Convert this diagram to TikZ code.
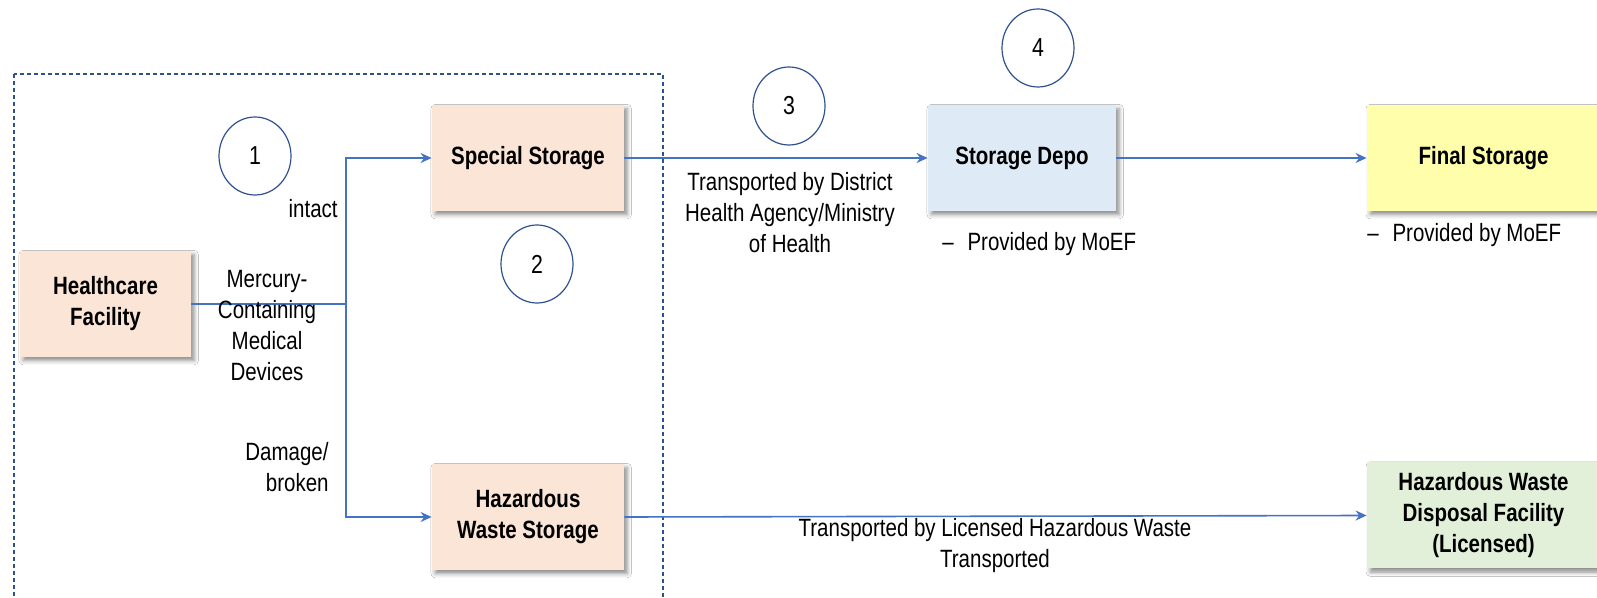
\documentclass[tikz,border=0pt]{standalone}
\usepackage{fontspec}
\setmainfont{Liberation Sans}[FakeStretch=0.82]
\usetikzlibrary{shapes.geometric,shadows.blur,arrows.meta}
\definecolor{peach}{HTML}{FBE5D6}
\definecolor{paleblue}{HTML}{DEEBF7}
\definecolor{paleyellow}{HTML}{FFFFAB}
\definecolor{palegreen}{HTML}{E2F0D9}
\definecolor{flowblue}{HTML}{4472C4}
\definecolor{ringblue}{HTML}{2F528F}
\begin{document}
\begin{tikzpicture}[x=0.5pt,y=-0.5pt,
  box/.style={draw=none, align=center, inner sep=0pt,
    font=\fontsize{12.5}{15.5}\selectfont\bfseries,
    minimum width=96pt, minimum height=53pt,
    blur shadow={shadow xshift=1.6pt, shadow yshift=-1.8pt,
      shadow blur steps=4, shadow opacity=45}},
  lbl/.style={align=center, inner sep=0pt, font=\fontsize{12.5}{15.5}\selectfont},
  link/.style={draw=flowblue, line width=0.8pt},
  flow/.style={link, -{Stealth[length=5.5pt,width=5pt]}},
  num/.style={draw=ringblue, ellipse, line width=0.6pt, inner sep=0pt,
    minimum width=36pt, minimum height=39pt, font=\fontsize{13}{15}\selectfont},
]
\clip (0,0) rectangle (1597,598);
\fill[white] (0,0) rectangle (1597,598);

% dashed frame around the facility-level handling
\draw[ringblue, line width=0.6pt, dash pattern=on 2pt off 1.5pt]
  (14,74) rectangle (663,620);

% process boxes
\node[box, fill=peach, minimum width=85.5pt] (hcf) at (105.5,304) {Healthcare\\Facility};
\node[box, fill=peach] (ss) at (528,158) {Special Storage};
\node[box, fill=peach] (hws) at (528,517) {Hazardous\\Waste Storage};
\node[box, fill=paleblue, minimum width=94pt] (depo) at (1022,158) {Storage Depo};
\node[box, fill=paleyellow, minimum width=116.5pt] (final) at (1483.5,158) {Final Storage};
\node[box, fill=palegreen, minimum width=116.5pt] (hwdf) at (1483.5,515.5) {Hazardous Waste\\Disposal Facility\\(Licensed)};

% step numbers
\node[num] (n1) at (255,156) {1};
\node[num] (n2) at (537,264) {2};
\node[num] (n3) at (789,106) {3};
\node[num] (n4) at (1038,48) {4};

% connectors
\coordinate (jn) at (346,304);
\draw[link] (hcf.east) -- (jn);
\draw[flow] (jn) |- (ss.west);
\draw[flow] (jn) |- (hws.west);
\draw[flow] (ss.east) -- (depo.west);
\draw[flow] (depo.east) -- (final.west);
\draw[flow] (hws.east) -- (hwdf.west);

% labels
\node[lbl, anchor=east] (lint) at (338,209) {intact};
\node[lbl] (lmerc) at (267,326) {Mercury-\\Containing\\Medical\\Devices};
\node[lbl, anchor=east, align=right] (ldmg) at (329,467.5) {Damage/\\broken};
\node[lbl] (ldist) at (790,212.5) {Transported by District\\Health Agency/Ministry\\of Health};
\node[lbl, anchor=west] (lmoef1) at (942,244) {–\hspace{0.55em}Provided by MoEF};
\node[lbl, anchor=west] (lmoef2) at (1367,235) {–\hspace{0.55em}Provided by MoEF};
\node[lbl] (llic) at (995,545.5) {Transported by Licensed Hazardous Waste\\Transported};
\end{tikzpicture}
\end{document}
